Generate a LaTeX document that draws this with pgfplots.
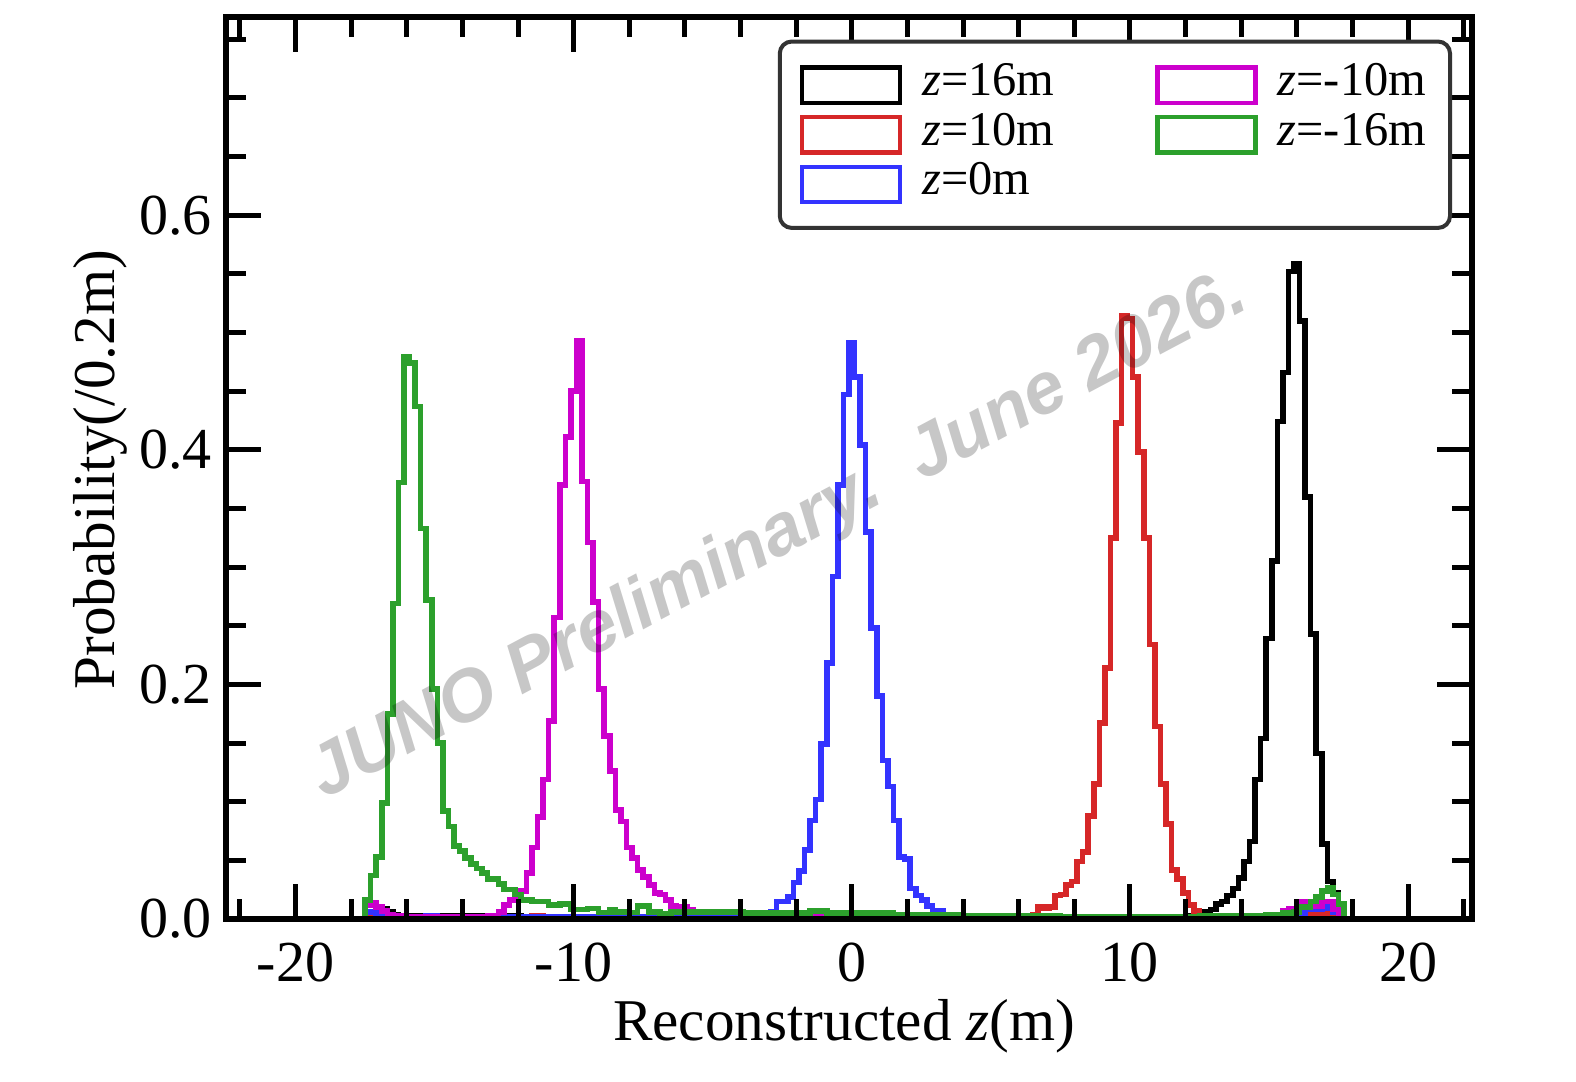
\documentclass[border=0pt]{standalone}
\usepackage{fontspec}
\setmainfont{Liberation Serif}
\newfontfamily\wmfont{Liberation Sans}
\usepackage{pgfplots}
\pgfplotsset{compat=1.18}
\definecolor{cblack}{HTML}{000000}
\definecolor{cred}{HTML}{D62728}
\definecolor{cblue}{HTML}{3333FF}
\definecolor{cmag}{HTML}{CC00CC}
\definecolor{cgreen}{HTML}{2CA02C}
\definecolor{legframe}{HTML}{333333}
\begin{document}
\begin{tikzpicture}
\useasboundingbox (-56.5pt,-40.75pt) rectangle (337.5pt,229.75pt);
\begin{axis}[
  scale only axis, width=311.5pt, height=225.5pt,
  xmin=-22.5, xmax=22.3, ymin=0, ymax=0.769,
  axis on top,
  xtick={-20,-10,0,10,20}, xticklabels={-20,-10,0,10,20},
  minor xtick={-22,-18,-16,-14,-12,-8,-6,-4,-2,2,4,6,8,12,14,16,18,22},
  ytick={0,0.2,0.4,0.6}, yticklabels={0.0,0.2,0.4,0.6},
  minor ytick={0.05,0.1,0.15,0.25,0.3,0.35,0.45,0.5,0.55,0.65,0.7,0.75},
  tick align=inside, tick pos=both,
  xticklabel pos=lower, yticklabel pos=left,
  major tick length=8.75pt, minor tick length=5pt,
  tick style={line width=1.25pt, black},
  axis line style={line width=1.7pt},
  ticklabel style={font=\fontsize{14.5}{17}\selectfont},
  xticklabel style={yshift=-2.5pt},
  label style={font=\fontsize{14.8}{17}\selectfont},
  xlabel={Reconstructed \textit{z}(m)},
  ylabel={Probability(/0.2m)},
  xlabel style={at={(axis description cs:0.496,-0.119)}, anchor=center},
  ylabel style={at={(axis description cs:-0.101,0.498)}, anchor=center},
  legend columns=2,
  legend cell align=left,
  legend style={at={(rel axis cs:0.984,0.975)}, anchor=north east,
    draw=legframe, line width=1pt, rounded corners=3pt,
    font=\fontsize{12.1}{12}\selectfont,
    inner xsep=5pt, inner ysep=4.7pt, row sep=0pt,
    /tikz/every odd column/.append style={column sep=4pt},
    /tikz/every even column/.append style={column sep=24.25pt},
    nodes={inner sep=1pt, text height=7.8pt, text depth=2.6pt}},
  legend image code/.code={\draw[#1, sharp corners] (0pt,-4.4pt) rectangle (24.5pt,4.4pt);},
]
\addplot[cblack, line width=1.4pt, const plot, forget plot] coordinates {
(-17.5,0) (-17.5,0.004) (-17.3,0.006) (-17.1,0.010) (-16.9,0.009) (-16.7,0.006) (-16.5,0.004) (-16.3,0.003) (-13.1,0.002) (-12.5,0.003) (-11.9,0.002) (-5.1,0.003) (-4.5,0.002) (-0.3,0.003) (0.3,0.002) (12.1,0.003) (12.5,0.004) (12.7,0.006) (12.9,0.008) (13.1,0.013) (13.3,0.015) (13.5,0.020) (13.7,0.026) (13.9,0.035) (14.1,0.049) (14.3,0.066) (14.5,0.119) (14.7,0.154) (14.9,0.239) (15.1,0.305) (15.3,0.424) (15.5,0.466) (15.7,0.552) (15.9,0.559) (16.1,0.510) (16.3,0.360) (16.5,0.243) (16.7,0.141) (16.9,0.064) (17.1,0.032) (17.3,0.022) (17.5,0)
};
\addplot[cred, line width=1.4pt, const plot, forget plot] coordinates {
(-17.5,0) (-17.5,0.004) (-17.3,0.006) (-16.9,0.003) (-16.5,0.002) (-11.5,0.003) (-11.1,0.002) (6.1,0.002) (6.5,0.004) (6.7,0.010) (6.9,0.009) (7.1,0.010) (7.3,0.020) (7.5,0.021) (7.7,0.029) (7.9,0.032) (8.1,0.049) (8.3,0.057) (8.5,0.088) (8.7,0.115) (8.9,0.167) (9.1,0.214) (9.3,0.325) (9.5,0.423) (9.7,0.514) (9.9,0.512) (10.1,0.462) (10.3,0.398) (10.5,0.325) (10.7,0.234) (10.9,0.164) (11.1,0.115) (11.3,0.081) (11.5,0.042) (11.7,0.034) (11.9,0.022) (12.1,0.012) (12.3,0.007) (12.5,0.003) (12.7,0.001) (14.9,0.002) (15.3,0.003) (15.5,0.005) (15.7,0.008) (15.9,0.006) (16.5,0.005) (17.3,0.003) (17.7,0)
};
\addplot[cblue, line width=1.4pt, const plot, forget plot] coordinates {
(-17.5,0) (-17.5,0.006) (-17.1,0.003) (-16.5,0.002) (-15.3,0.003) (-14.9,0.002) (-3.5,0.002) (-3.1,0.003) (-2.9,0.006) (-2.7,0.015) (-2.5,0.015) (-2.3,0.019) (-2.1,0.031) (-1.9,0.041) (-1.7,0.059) (-1.5,0.084) (-1.3,0.102) (-1.1,0.149) (-0.9,0.218) (-0.7,0.292) (-0.5,0.370) (-0.3,0.447) (-0.1,0.491) (0.1,0.462) (0.3,0.404) (0.5,0.330) (0.7,0.248) (0.9,0.190) (1.1,0.135) (1.3,0.113) (1.5,0.084) (1.7,0.053) (1.9,0.051) (2.1,0.026) (2.3,0.020) (2.5,0.016) (2.7,0.011) (2.9,0.007) (3.1,0.007) (3.3,0.002) (3.5,0.001) (15.9,0.003) (16.3,0.008) (16.9,0.009) (17.1,0.012) (17.3,0.006) (17.5,0.002) (17.7,0)
};
\addplot[cmag, line width=1.4pt, const plot, forget plot] coordinates {
(-17.5,0) (-17.5,0.012) (-17.3,0.014) (-17.1,0.010) (-16.9,0.007) (-16.7,0.004) (-16.5,0.003) (-16.1,0.002) (-13.5,0.002) (-13.1,0.003) (-12.7,0.006) (-12.5,0.012) (-12.3,0.016) (-12.1,0.022) (-11.9,0.024) (-11.7,0.039) (-11.5,0.061) (-11.3,0.087) (-11.1,0.119) (-10.9,0.169) (-10.7,0.257) (-10.5,0.370) (-10.3,0.411) (-10.1,0.450) (-9.9,0.493) (-9.7,0.373) (-9.5,0.321) (-9.3,0.270) (-9.1,0.196) (-8.9,0.156) (-8.7,0.126) (-8.5,0.093) (-8.3,0.083) (-8.1,0.061) (-7.9,0.052) (-7.7,0.042) (-7.5,0.036) (-7.3,0.029) (-7.1,0.022) (-6.9,0.021) (-6.7,0.016) (-6.5,0.011) (-6.3,0.010) (-6.1,0.010) (-5.9,0.008) (-5.7,0.006) (-3.9,0.0035) (-1.1,0.003) (1.9,0.002) (13.1,0.001) (15.3,0.003) (15.5,0.007) (15.7,0.009) (16.1,0.015) (16.5,0.011) (16.9,0.015) (17.3,0.008) (17.5,0.004) (17.7,0)
};
\addplot[cgreen, line width=1.4pt, const plot, forget plot] coordinates {
(-17.5,0) (-17.5,0.016) (-17.3,0.037) (-17.1,0.053) (-16.9,0.099) (-16.7,0.175) (-16.5,0.269) (-16.3,0.372) (-16.1,0.479) (-15.9,0.474) (-15.7,0.437) (-15.5,0.333) (-15.3,0.272) (-15.1,0.196) (-14.9,0.150) (-14.7,0.092) (-14.5,0.079) (-14.3,0.062) (-14.1,0.058) (-13.9,0.052) (-13.7,0.047) (-13.5,0.043) (-13.3,0.039) (-13.1,0.034) (-12.9,0.034) (-12.7,0.030) (-12.5,0.025) (-12.3,0.025) (-12.1,0.021) (-11.9,0.016) (-11.7,0.016) (-11.5,0.015) (-11.3,0.015) (-11.1,0.015) (-10.9,0.012) (-10.7,0.012) (-10.5,0.013) (-10.3,0.013) (-10.1,0.008) (-9.9,0.008) (-9.7,0.008) (-9.5,0.009) (-9.3,0.009) (-9.1,0.0055) (-8.9,0.0055) (-8.7,0.008) (-8.5,0.006) (-8.3,0.006) (-8.1,0.0055) (-7.9,0.0055) (-7.7,0.011) (-7.5,0.011) (-7.3,0.006) (-7.1,0.006) (-6.9,0.0045) (-6.7,0.0045) (-6.5,0.006) (-3.9,0.005) (-1.5,0.007) (-0.9,0.005) (1.5,0.004) (3.9,0.003) (7.5,0.002) (12.5,0.003) (14.1,0.003) (14.9,0.004) (15.5,0.005) (15.9,0.006) (16.1,0.010) (16.5,0.015) (16.7,0.019) (16.9,0.024) (17.1,0.027) (17.3,0.021) (17.5,0.013) (17.7,0)
};
\addlegendimage{cblack, line width=1.1pt}
\addlegendentry{\textit{z}=16m}
\addlegendimage{cmag, line width=1.1pt}
\addlegendentry{\textit{z}=-10m}
\addlegendimage{cred, line width=1.1pt}
\addlegendentry{\textit{z}=10m}
\addlegendimage{cgreen, line width=1.1pt}
\addlegendentry{\textit{z}=-16m}
\addlegendimage{cblue, line width=1.1pt}
\addlegendentry{\textit{z}=0m}
\node[rotate=28, text=black, text opacity=0.22, inner sep=0pt,
  font=\wmfont\bfseries\itshape\fontsize{18.2}{20}\selectfont]
  at (rel axis cs:0.444,0.424) {JUNO Preliminary.\ \ June 2026.};
\end{axis}
\end{tikzpicture}
\end{document}
